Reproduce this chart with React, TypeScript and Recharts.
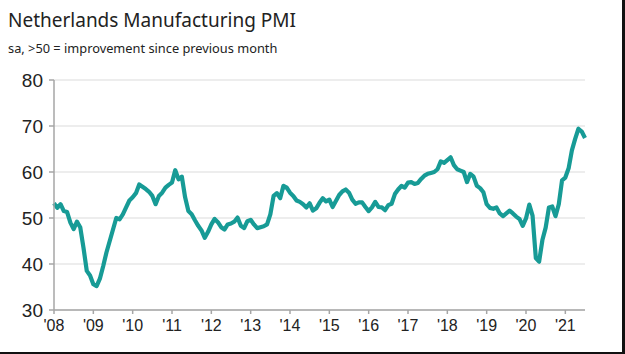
import React from 'react';
import { LineChart, Line, XAxis, YAxis, CartesianGrid } from 'recharts';

// monthly PMI readings, Jan..Dec per year
const pmi2008 = [53.2, 52.2, 53.0, 51.5, 51.3, 49.0, 47.6, 49.2, 48.0, 43.5, 38.5, 37.5];
const pmi2009 = [35.6, 35.2, 36.8, 39.5, 42.5, 45.0, 47.5, 50.0, 49.7, 50.8, 52.3, 53.8];
const pmi2010 = [54.5, 55.4, 57.3, 56.8, 56.3, 55.7, 54.8, 53.0, 54.8, 55.5, 56.6, 57.2];
const pmi2011 = [57.7, 60.4, 58.4, 59.0, 54.5, 51.5, 50.8, 49.5, 48.3, 47.3, 45.7, 47.0];
const pmi2012 = [48.6, 49.8, 49.1, 48.0, 47.5, 48.6, 48.8, 49.2, 50.1, 48.3, 47.8, 49.3];
const pmi2013 = [49.6, 48.6, 47.8, 48.0, 48.2, 48.6, 50.8, 54.8, 55.4, 54.3, 57.0, 56.6];
const pmi2014 = [55.5, 54.8, 53.8, 53.5, 53.0, 52.3, 53.2, 51.6, 52.1, 53.3, 54.3, 53.6];
const pmi2015 = [54.0, 52.4, 53.7, 55.0, 55.8, 56.2, 55.5, 54.0, 53.1, 53.4, 53.4, 52.4];
const pmi2016 = [51.5, 52.3, 53.5, 52.4, 52.3, 51.7, 52.8, 53.1, 55.2, 56.2, 57.0, 56.6];
const pmi2017 = [57.7, 57.8, 57.4, 57.6, 58.5, 59.2, 59.6, 59.8, 60.0, 60.6, 62.3, 62.0];
const pmi2018 = [62.6, 63.2, 61.5, 60.6, 60.3, 60.0, 57.8, 59.6, 59.0, 57.0, 56.5, 55.6];
const pmi2019 = [53.0, 52.2, 52.0, 52.3, 51.0, 50.4, 51.0, 51.6, 51.0, 50.3, 49.8, 48.3];
const pmi2020 = [49.9, 52.9, 50.5, 41.3, 40.5, 45.2, 47.9, 52.3, 52.5, 50.4, 53.0, 58.2];
const pmi2021 = [58.8, 60.8, 64.7, 67.2, 69.4, 68.8, 67.4];

const yearLabels = ["'08", "'09", "'10", "'11", "'12", "'13", "'14", "'15", "'16", "'17", "'18", "'19", "'20", "'21"];
const yTicks = [30, 40, 50, 60, 70, 80];

const allValues = [
  ...pmi2008, ...pmi2009, ...pmi2010, ...pmi2011, ...pmi2012, ...pmi2013, ...pmi2014,
  ...pmi2015, ...pmi2016, ...pmi2017, ...pmi2018, ...pmi2019, ...pmi2020, ...pmi2021,
];

const data = allValues.map((v, i) => ({ month: i, pmi: v }));
const xTicks = yearLabels.map((_, i) => i * 12);

const TEAL = '#179b96';
const AXIS = '#a6a6a6';
const GRID = '#dcdcdc';
const TICK_FONT = 'Liberation Sans, Arial, sans-serif';

export default function App() {
  return (
    <div
      style={{
        position: 'fixed',
        top: 0,
        left: 0,
        width: 625,
        height: 354,
        boxSizing: 'border-box',
        background: '#fff',
        borderRight: '3px solid #111',
        borderBottom: '2px solid #111',
        fontFamily: '"Noto Sans", sans-serif',
      }}
    >
      <div style={{ position: 'absolute', left: 8, top: 7, fontSize: 19, color: '#222', whiteSpace: 'nowrap' }}>
        Netherlands Manufacturing PMI
      </div>
      <div style={{ position: 'absolute', left: 8, top: 39, fontSize: 12.8, color: '#222', whiteSpace: 'nowrap' }}>
        sa, &gt;50 = improvement since previous month
      </div>
      <div style={{ position: 'absolute', left: 0, top: 0 }}>
        <LineChart
          width={622}
          height={352}
          data={data}
          margin={{ top: 80, right: 37, left: 0, bottom: 12 }}
        >
          <CartesianGrid vertical={false} stroke={GRID} strokeWidth={1.2} />
          <XAxis
            dataKey="month"
            type="number"
            domain={[0, 162]}
            ticks={xTicks}
            tickFormatter={(v: number) => yearLabels[v / 12]}
            interval={0}
            height={30}
            tickSize={4}
            tickMargin={6}
            stroke={AXIS}
            strokeWidth={1.5}
            tick={{ fill: '#222', fontSize: 16, fontFamily: TICK_FONT }}
          />
          <YAxis
            domain={[30, 80]}
            ticks={yTicks}
            interval={0}
            width={54}
            tickSize={5}
            tickMargin={6}
            stroke={AXIS}
            strokeWidth={1.5}
            tick={{ fill: '#222', fontSize: 19, fontFamily: TICK_FONT }}
          />
          <Line
            type="linear"
            dataKey="pmi"
            stroke={TEAL}
            strokeWidth={4.2}
            dot={false}
            strokeLinejoin="round"
            isAnimationActive={false}
          />
        </LineChart>
      </div>
    </div>
  );
}
